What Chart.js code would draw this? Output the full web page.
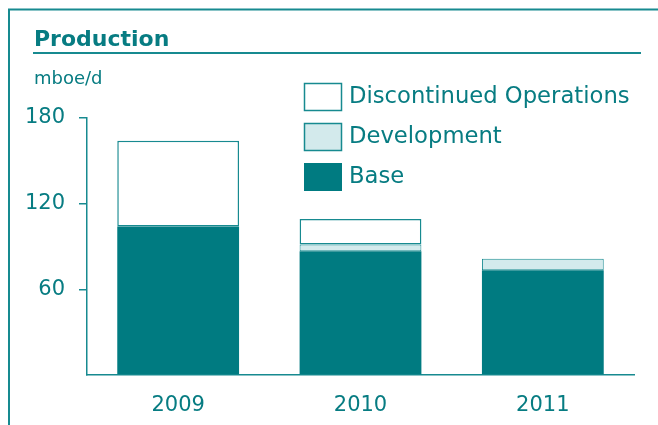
<!DOCTYPE html>
<html>
<head>
<meta charset="utf-8">
<script src="https://cdn.jsdelivr.net/npm/chart.js@4/dist/chart.umd.min.js"></script>
<style>
html,body{margin:0;padding:0;background:#fff;}
#wrap{width:658px;height:425px;position:relative;}
</style>
</head>
<body>
<div id="wrap"><canvas id="c" width="658" height="425"></canvas></div>
<script>
const categories = ["2009", "2010", "2011"];
const baseValues = [104, 86.7, 73.3];
const developmentValues = [0, 4.7, 8.1];
const discontinuedValues = [60, 17.9, 0];
const yTicks = [60, 120, 180];
const seriesNames = ["Base", "Development", "Discontinued Operations"];
const titleText = "Production";
const unitText = "mboe/d";

const TEAL = "#007b81";
const TEXT = "#077c82";
const LINE = "#178a90";
const LIGHT = "#d3eaec";
const FONT = "'DejaVu Sans', 'Liberation Sans', Arial, sans-serif";

const framePlugin = {
  id: "frame",
  beforeDraw(chart) {
    const ctx = chart.ctx;
    ctx.save();
    ctx.strokeStyle = LINE;
    ctx.lineWidth = 2;
    ctx.beginPath();
    ctx.moveTo(9, 425); ctx.lineTo(9, 9.5); ctx.lineTo(658, 9.5);
    ctx.stroke();
    ctx.beginPath();
    ctx.moveTo(33, 53); ctx.lineTo(641, 53);
    ctx.stroke();
    ctx.fillStyle = TEXT;
    ctx.textAlign = "left";
    ctx.textBaseline = "alphabetic";
    ctx.font = "bold 22px " + FONT;
    ctx.fillText(titleText, 34, 46);
    ctx.font = "18px " + FONT;
    ctx.fillText(unitText, 34, 84);
    ctx.restore();
  }
};

const legendPlugin = {
  id: "customLegend",
  afterDraw(chart) {
    const ctx = chart.ctx;
    const ds = chart.data.datasets.slice().reverse();
    ctx.save();
    ctx.font = "22.7px " + FONT;
    ctx.textBaseline = "middle";
    ctx.textAlign = "left";
    ds.forEach((d, i) => {
      const y = 83 + i * 40;
      ctx.fillStyle = d.backgroundColor;
      ctx.fillRect(304, y, 38, 28);
      if (d.borderWidth) {
        ctx.strokeStyle = LINE;
        ctx.lineWidth = 1.5;
        ctx.strokeRect(304.5, y + 0.5, 37, 27);
      }
      ctx.fillStyle = TEXT;
      ctx.fillText(d.label, 349, y + 14.5);
    });
    ctx.restore();
  }
};

new Chart(document.getElementById("c"), {
  type: "bar",
  data: {
    labels: categories,
    datasets: [
      { label: seriesNames[0], data: baseValues, backgroundColor: TEAL, borderWidth: 0 },
      { label: seriesNames[1], data: developmentValues, backgroundColor: LIGHT, borderColor: LINE, borderWidth: 1, borderSkipped: false },
      { label: seriesNames[2], data: discontinuedValues, backgroundColor: "#ffffff", borderColor: LINE, borderWidth: 1.5, borderSkipped: false }
    ]
  },
  options: {
    responsive: false,
    animation: false,
    devicePixelRatio: 1,
    layout: { padding: { top: 118, left: 20, right: 24, bottom: 7 } },
    datasets: { bar: { categoryPercentage: 0.668, barPercentage: 1 } },
    plugins: {
      legend: { display: false },
      tooltip: { enabled: false },
      title: { display: false },
      subtitle: { display: false }
    },
    scales: {
      x: {
        stacked: true,
        afterFit(scale) { scale.height = 43; },
        grid: { display: false },
        border: { display: true, color: LINE, width: 1.5 },
        ticks: { color: TEXT, font: { family: FONT, size: 21 }, padding: 10 }
      },
      y: {
        stacked: true,
        min: 0, max: 180,
        afterFit(scale) { scale.width = 67; },
        afterBuildTicks(scale) { scale.ticks = [0].concat(yTicks).map(v => ({ value: v })); },
        grid: {
          drawOnChartArea: false, drawTicks: true, tickLength: 8, lineWidth: 1.5,
          tickColor: (c) => (c.tick && c.tick.value === 0) ? "rgba(0,0,0,0)" : LINE
        },
        border: { display: true, color: LINE, width: 1.5 },
        ticks: {
          color: TEXT, font: { family: FONT, size: 21 }, padding: 14,
          callback: (v) => v === 0 ? "" : String(v)
        }
      }
    }
  },
  plugins: [framePlugin, legendPlugin]
});
</script>
</body>
</html>
